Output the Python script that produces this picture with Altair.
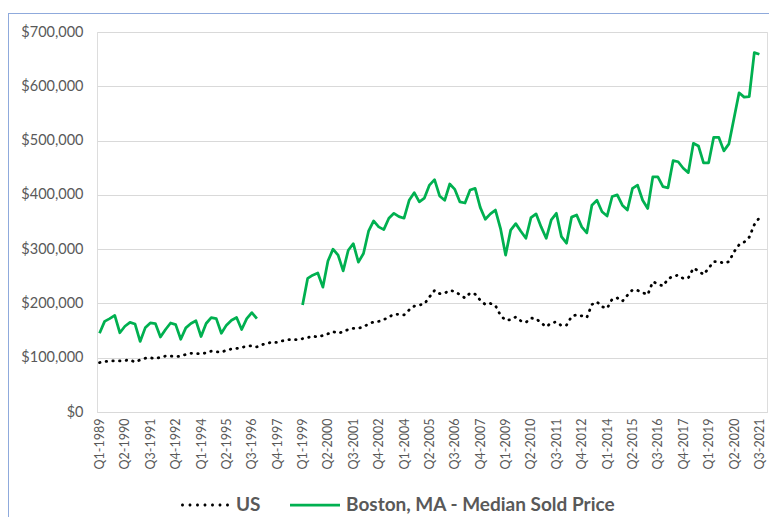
import altair as alt
import pandas as pd

years = list(range(1989, 2022))
quarters = [f"Q{q}-{y}" for y in years for q in (1, 2, 3, 4)]
tick_labels = quarters[::5]

series_names = ["US", "Boston, MA - Median Sold Price"]
series_colors = ["#000000", "#00B050"]

# values in thousands of dollars, Q1-1989 .. Q4-2021
us_k = [
    91, 93, 94, 94, 94, 95, 96, 92, 96, 99,
    100, 98, 101, 103, 103, 102, 103, 106, 108, 108,
    107, 109, 112, 111, 110, 114, 116, 117, 119, 121,
    122, 120, 124, 126, 129, 128, 131, 133, 134, 133,
    135, 137, 140, 138, 141, 144, 148, 145, 148, 152,
    154, 154, 157, 162, 166, 167, 170, 175, 180, 180,
    179, 188, 195, 197, 199, 212, 224, 218, 219, 224,
    222, 216, 210, 219, 217, 206, 198, 200, 196, 178,
    169, 170, 175, 168, 165, 173, 172, 164, 157, 164,
    166, 159, 160, 176, 179, 177, 174, 198, 203, 194,
    191, 208, 210, 204, 215, 225, 224, 220, 216, 240,
    236, 232, 245, 250, 252, 246, 247, 265, 260, 253,
    265, 277, 277, 274, 277, 295, 308, 313, 322, 345,
    358, None,
]

boston_k = [
    145, 167, 172, 178, 146, 158, 165, 162, 130, 155,
    164, 163, 138, 152, 164, 161, 134, 155, 163, 168,
    139, 163, 174, 172, 145, 160, 169, 174, 152, 172,
    183, 172, None, None, None, None, None, None, None, None,
    197, 246, 252, 256, 230, 278, 300, 289, 260, 298,
    310, 276, 292, 333, 352, 341, 336, 357, 366, 360,
    357, 390, 404, 387, 394, 418, 428, 398, 390, 420,
    410, 387, 385, 409, 412, 377, 355, 365, 372, 338,
    289, 335, 347, 333, 320, 358, 365, 341, 320, 354,
    366, 323, 311, 359, 363, 341, 330, 381, 390, 369,
    361, 397, 400, 381, 372, 412, 418, 390, 375, 433,
    433, 415, 413, 463, 461, 449, 441, 495, 490, 459,
    459, 506, 506, 481, 494, 541, 588, 580, 581, 662,
    659, None,
]

y_ticks = [0, 100000, 200000, 300000, 400000, 500000, 600000, 700000]

rows = []
for name, vals in zip(series_names, [us_k, boston_k]):
    for q, v in zip(quarters, vals):
        rows.append({"quarter": q, "series": name,
                     "value": None if v is None else v * 1000})
df = pd.DataFrame(rows)

FONT = "Lato"
TEXT = "#595959"
PLOT_W, PLOT_H = 670, 380

x_enc = alt.X("quarter:O",
              scale=alt.Scale(type="point", domain=quarters, padding=0.5),
              axis=alt.Axis(values=tick_labels, labelAngle=-90, title=None,
                            labelFont=FONT, labelFontSize=12.5, labelColor=TEXT,
                            labelPadding=6, ticks=False, grid=False,
                            domain=True, domainColor="#D9D9D9", domainWidth=1))
y_enc = alt.Y("value:Q",
              scale=alt.Scale(domain=[0, 700000], nice=False),
              axis=alt.Axis(values=y_ticks, format="$,.0f", title=None,
                            labelFont=FONT, labelFontSize=14.5, labelColor=TEXT,
                            labelPadding=14, ticks=False, domain=False,
                            grid=True, gridColor="#D9D9D9", gridWidth=1))

base = alt.Chart(df)

us_line = base.transform_filter(alt.datum.series == "US").mark_line(
    color=series_colors[0], strokeWidth=2.8, strokeCap="round",
    strokeDash=[0.5, 6.2], invalid="break-paths-show-domains"
).encode(x=x_enc, y=y_enc)

boston_line = base.transform_filter(alt.datum.series != "US").mark_line(
    color=series_colors[1], strokeWidth=2.75, strokeJoin="round",
    invalid="break-paths-show-domains"
).encode(x=x_enc, y=y_enc)

# legend symbols: a row of round dots for US, a solid bar for Boston
dot_centers = [-0.9, -0.6, -0.3, 0.0, 0.3, 0.6, 0.9]
r = 0.06
us_symbol = " ".join(
    f"M{c - r:.3f},0a{r},{r} 0 1,0 {2 * r:.3f},0a{r},{r} 0 1,0 {-2 * r:.3f},0"
    for c in dot_centers)
boston_symbol = "M-1,-0.055H1V0.055H-1Z"

legend_props = dict(
    title=None, orient="none", legendX=83, legendY=448,
    direction="horizontal", symbolSize=2500,
    symbolStrokeWidth=0, symbolOpacity=1,
    labelFont=FONT, labelFontSize=19, labelLimit=400,
    labelFontWeight="bold", labelColor=TEXT,
    labelOffset=6, columnPadding=29)

legend_df = pd.DataFrame({"series": series_names})
legend_layer = alt.Chart(legend_df).mark_point(filled=True, strokeWidth=0).encode(
    x=alt.value(-600), y=alt.value(-600),
    color=alt.Color("series:N",
                    scale=alt.Scale(domain=series_names, range=series_colors),
                    legend=alt.Legend(**legend_props)),
    shape=alt.Shape("series:N",
                    scale=alt.Scale(domain=series_names,
                                    range=[us_symbol, boston_symbol]),
                    legend=alt.Legend(**legend_props)),
)

border_df = pd.DataFrame({"k": [0]})
border_left = alt.Chart(border_df).mark_rule(color="#8FAADC", strokeWidth=1).encode(
    x=alt.value(-88.5), y=alt.value(-19), y2=alt.value(PLOT_H + 110))
border_top = alt.Chart(border_df).mark_rule(color="#8FAADC", strokeWidth=1).encode(
    x=alt.value(-88.5), x2=alt.value(PLOT_W + 10), y=alt.value(-18.5))

chart = alt.layer(boston_line, us_line, legend_layer, border_left, border_top).properties(
    width=PLOT_W, height=PLOT_H,
    autosize=alt.AutoSizeParams(type="none"),
    padding={"left": 89, "top": 24, "right": 2, "bottom": 105},
).configure_view(stroke=None).configure(background="white")

chart.save("out.html", embed_options={"renderer": "svg", "actions": False})
